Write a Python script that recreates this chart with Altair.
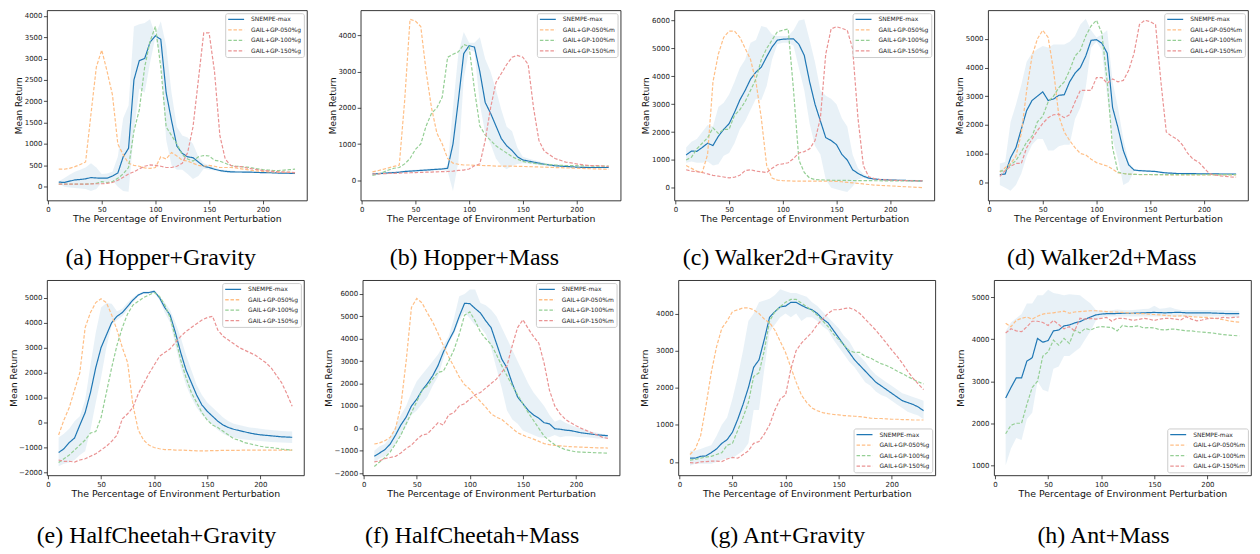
import altair as alt
import pandas as pd

X = [10, 15, 20, 25, 30, 35, 40, 45, 50, 55, 60, 65, 70, 75, 80, 85, 90, 95, 100, 105,
     110, 115, 120, 125, 130, 135, 140, 145, 150, 155, 160, 165, 170, 175, 180, 185, 190,
     195, 200, 205, 210, 215, 220, 225, 230]

# ---------------- (a) Hopper+Gravity ----------------
A_SNE = [110, 100, 130, 160, 170, 185, 215, 205, 200, 200, 250, 320, 700, 900, 2500, 2950, 3000, 3380, 3530, 3450,
         2200, 1550, 950, 780, 700, 680, 580, 480, 450, 410, 380, 360, 350, 345, 345, 340, 340, 335, 330, 330,
         325, 320, 318, 315, 310]
A_HI = [130, 200, 280, 350, 400, 450, 550, 450, 300, 310, 350, 700, 1600, 1900, 3750, 3800, 3830, 3920, 3550, 3870,
        3300, 2200, 1400, 1200, 1150, 1000, 700, 550, 500, 450, 410, 390, 380, 370, 365, 360, 355, 350, 345, 345,
        340, 335, 332, 330, 325]
A_LO = [80, 0, -20, -30, -40, -50, -100, -50, 100, 100, 150, 0, -100, -120, 1300, 2300, 2200, 2900, 3500, 3000,
        1100, 500, 400, 400, 300, 180, 250, 420, 400, 380, 350, 330, 320, 320, 325, 320, 325, 320, 315, 315,
        310, 305, 304, 300, 295]
A_G050 = [410, 410, 430, 470, 520, 580, 1700, 2800, 3200, 2700, 2150, 1000, 750, 550, 500, 480, 440, 430, 450, 700,
          650, 800, 720, 620, 600, 550, 500, 480, 500, 480, 450, 450, 450, 440, 420, 400, 380, 370, 360, 350,
          345, 340, 340, 335, 330]
A_G100 = [60, 60, 60, 60, 60, 60, 70, 80, 120, 100, 120, 200, 300, 450, 1300, 1800, 2800, 3400, 3750, 2800,
          1400, 1200, 1000, 750, 650, 600, 700, 730, 720, 620, 600, 550, 500, 480, 470, 460, 440, 420, 400, 390,
          380, 380, 390, 400, 410]
A_G150 = [60, 60, 60, 60, 60, 60, 65, 70, 70, 80, 100, 150, 220, 300, 350, 420, 480, 510, 500, 480,
          450, 450, 480, 550, 800, 1400, 2500, 3600, 3600, 2700, 1200, 650, 500, 470, 470, 440, 420, 400, 380, 370,
          360, 350, 340, 340, 330]

# ---------------- (b) Hopper+Mass ----------------
B_SNE = [170, 180, 190, 200, 210, 220, 240, 250, 260, 270, 280, 290, 300, 310, 330, 1000, 2200, 3500, 3720, 3680,
         3000, 2150, 1850, 1500, 1150, 950, 820, 650, 560, 530, 500, 470, 440, 420, 400, 390, 380, 370, 360, 355,
         350, 350, 350, 350, 350]
B_HI = [200, 210, 220, 230, 240, 250, 270, 280, 290, 300, 310, 320, 330, 340, 400, 2000, 3500, 4100, 3800, 3800,
        3950, 3350, 3000, 2500, 1950, 1480, 1350, 900, 650, 600, 560, 520, 480, 455, 430, 420, 410, 395, 385, 380,
        375, 375, 372, 372, 370]
B_LO = [140, 150, 160, 170, 180, 190, 210, 220, 230, 240, 250, 260, 270, 280, 250, -300, 500, 2800, 3600, 3550,
        2100, 1300, 1000, 600, 400, 300, 400, 450, 470, 460, 440, 420, 400, 385, 370, 360, 350, 345, 335, 330,
        325, 325, 328, 328, 330]
B_G050 = [230, 260, 300, 340, 380, 420, 2200, 4450, 4400, 4250, 3000, 2000, 1300, 1000, 600, 470, 440, 420, 420, 410,
          410, 400, 400, 390, 390, 390, 390, 380, 380, 375, 370, 365, 360, 355, 350, 345, 340, 335, 330, 325,
          320, 315, 310, 305, 300]
B_G100 = [130, 170, 220, 280, 330, 350, 450, 600, 850, 1000, 1500, 1850, 2000, 2300, 3400, 3480, 3550, 3750, 3700, 2500,
          1500, 1250, 1100, 950, 850, 750, 650, 580, 520, 490, 470, 450, 440, 430, 420, 410, 405, 400, 400, 395,
          395, 390, 390, 390, 390]
B_G150 = [170, 175, 180, 185, 190, 195, 200, 205, 210, 215, 220, 225, 230, 235, 240, 250, 270, 280, 310, 400,
          450, 1100, 2000, 2700, 2950, 3200, 3400, 3450, 3400, 3200, 2000, 1100, 800, 700, 600, 550, 500, 480, 450, 430,
          410, 400, 400, 390, 380]

# ---------------- (c) Walker2d+Gravity ----------------
C_SNE = [1180, 1320, 1310, 1450, 1600, 1520, 1850, 2100, 2300, 2700, 3150, 3500, 3900, 4150, 4330, 4700, 5050, 5300, 5330, 5340,
         5340, 5150, 4750, 3800, 3000, 2400, 1800, 1700, 1550, 1200, 1000, 650, 520, 420, 350, 320, 300, 290, 280, 275,
         270, 265, 260, 255, 250]
C_HI = [1450, 1650, 1750, 2000, 2250, 2200, 2900, 3050, 3350, 3800, 4300, 4600, 5200, 5300, 5800, 5750, 5500, 5450, 5450, 5450,
        5650, 6000, 6050, 5300, 4500, 3500, 3300, 3200, 3000, 2500, 2200, 1200, 700, 500, 400, 360, 340, 325, 315, 305,
        300, 295, 290, 285, 280]
C_LO = [900, 950, 900, 900, 950, 800, 850, 1150, 1250, 1600, 2100, 2400, 2800, 3200, 3150, 3650, 4600, 5150, 5200, 5200,
        5100, 4300, 3500, 2300, 1500, 1200, 300, 0, -50, -100, -150, 50, 300, 350, 300, 280, 260, 255, 245, 245,
        240, 235, 230, 225, 220]
C_G050 = [800, 700, 600, 550, 1200, 3800, 4800, 5400, 5620, 5620, 5400, 5000, 4600, 3800, 2500, 800, 350, 280, 260, 250,
          245, 245, 245, 245, 245, 245, 245, 240, 230, 220, 200, 180, 160, 140, 120, 100, 90, 80, 70, 60,
          50, 40, 30, 20, 10]
C_G100 = [1000, 1100, 1400, 1600, 1800, 2150, 1950, 2100, 2100, 2600, 2800, 3100, 3500, 3900, 4600, 5000, 5300, 5600, 5650, 5700,
          3500, 1000, 550, 350, 300, 290, 280, 275, 270, 268, 266, 264, 262, 260, 258, 256, 255, 254, 253, 252,
          251, 250, 250, 250, 250]
C_G150 = [650, 600, 580, 550, 500, 450, 420, 390, 360, 380, 450, 620, 650, 600, 580, 550, 700, 830, 860, 900,
          1050, 1250, 1300, 1400, 1700, 2500, 4800, 5700, 5780, 5720, 5650, 5000, 2500, 800, 400, 330, 300, 290, 280, 270,
          265, 260, 255, 250, 250]

# ---------------- (d) Walker2d+Mass ----------------
D_SNE = [260, 280, 850, 1200, 1850, 2500, 2850, 3000, 3150, 2850, 2900, 3030, 3050, 3500, 3800, 4000, 4400, 4950, 4970, 4850,
         4500, 2600, 1900, 1100, 600, 420, 400, 390, 380, 370, 340, 320, 310, 300, 300, 295, 295, 290, 290, 285,
         285, 283, 282, 281, 280]
D_HI = [650, 700, 2100, 2700, 3400, 4200, 4500, 4650, 4750, 4700, 4800, 4800, 4800, 4900, 5100, 5500, 5700, 5300, 5050, 5150,
        5300, 3500, 2600, 1500, 700, 450, 430, 420, 410, 400, 370, 350, 340, 330, 330, 325, 325, 320, 320, 315,
        315, 313, 312, 311, 310]
D_LO = [-100, -200, -300, -100, 300, 900, 1300, 1500, 1500, 1100, 1100, 1250, 1300, 1300, 2200, 2600, 3300, 4700, 4900, 4600,
        3000, 1500, 800, -100, 0, 390, 370, 360, 350, 340, 310, 290, 280, 270, 270, 265, 265, 260, 260, 255,
        255, 253, 252, 251, 250]
D_G050 = [350, 500, 650, 900, 1700, 3200, 4400, 5000, 5300, 5050, 3900, 2300, 1750, 1450, 1200, 1000, 950, 800, 680, 620,
          560, 450, 320, 300, 280, 270, 260, 260, 260, 258, 256, 255, 254, 253, 252, 251, 250, 250, 250, 250,
          250, 250, 250, 250, 250]
D_G100 = [380, 400, 600, 750, 1050, 1400, 1600, 2100, 2300, 2800, 3000, 3300, 3500, 3900, 4400, 4600, 5100, 5450, 5650, 5200,
          3500, 1200, 350, 300, 280, 270, 265, 265, 264, 263, 262, 262, 261, 261, 260, 260, 260, 260, 260, 260,
          260, 260, 260, 260, 260]
D_G150 = [200, 400, 550, 650, 650, 1200, 1500, 1800, 2050, 2250, 2350, 2370, 2250, 2350, 2800, 3200, 3200, 3200, 3650, 3650,
          3450, 3600, 3500, 3550, 3900, 4500, 5500, 5650, 5600, 5500, 3500, 1750, 1600, 1500, 1300, 1000, 800, 700, 500, 300,
          250, 220, 200, 180, 170]

# ---------------- (e) HalfCheetah+Gravity ----------------
E_SNE = [-1200, -1050, -800, -620, -100, 400, 1200, 2200, 3000, 3500, 4000, 4250, 4400, 4650, 4900, 5100, 5200, 5200, 5250, 5000,
         4600, 4300, 3600, 2800, 2100, 1600, 1100, 700, 450, 250, 50, -100, -200, -270, -320, -370, -420, -460, -490, -510,
         -530, -550, -570, -580, -590]
E_HI = [-600, -450, -250, 50, 250, 900, 2300, 3600, 4600, 4780, 4750, 4450, 4550, 4800, 5000, 5150, 5250, 5250, 5300, 5050,
        4800, 4500, 4000, 3400, 2700, 2100, 1500, 1100, 800, 600, 400, 200, 50, -50, -100, -150, -200, -220, -250, -280,
        -300, -320, -340, -350, -360]
E_LO = [-1750, -1650, -1600, -1500, -1300, -1150, -300, 800, 1800, 3000, 3900, 4100, 4250, 4500, 4800, 5050, 5150, 5150, 5200, 4900,
        4400, 4000, 3100, 2200, 1500, 1000, 600, 300, 100, -100, -300, -450, -550, -600, -650, -680, -700, -720, -740, -760,
        -780, -790, -800, -810, -820]
E_G050 = [-500, 100, 600, 1300, 2000, 3800, 4400, 4800, 4950, 4800, 4300, 3700, 3000, 2400, 700, -300, -700, -900, -1000, -1050,
          -1080, -1080, -1100, -1100, -1110, -1120, -1130, -1130, -1130, -1120, -1120, -1110, -1110, -1110, -1110, -1100, -1100, -1100, -1100, -1100,
          -1100, -1100, -1100, -1100, -1100]
E_G100 = [-1600, -1450, -1300, -1100, -900, -700, -420, -360, 200, 1200, 2200, 3100, 3800, 4350, 4700, 4850, 5000, 5100, 5200, 5050,
          4700, 4200, 3400, 2500, 1800, 1200, 800, 400, 100, -100, -200, -350, -500, -650, -700, -800, -850, -900, -950, -980,
          -1000, -1030, -1060, -1080, -1100]
E_G150 = [-1500, -1550, -1550, -1580, -1500, -1450, -1350, -1250, -1100, -950, -750, -500, 150, 350, 600, 1150, 1550, 1950, 2300, 2650,
          2800, 2950, 3200, 3450, 3650, 3800, 3950, 4100, 4200, 4250, 3700, 3450, 3300, 3150, 3000, 2900, 2800, 2700, 2550, 2400,
          2200, 1900, 1600, 1150, 650]

# ---------------- (f) HalfCheetah+Mass ----------------
F_SNE = [-1250, -1100, -950, -700, -300, 150, 500, 1000, 1300, 1700, 2000, 2350, 2800, 3400, 3900, 4350, 5000, 5580, 5570, 5350,
         5150, 4800, 4500, 3800, 3100, 2700, 2000, 1400, 1100, 800, 600, 450, 250, 200, -20, -40, -80, -100, -150, -200,
         -230, -260, -290, -310, -330]
F_HI = [-1000, -800, -700, -400, 100, 600, 1000, 1600, 2100, 2400, 2700, 3000, 3300, 3700, 4100, 4900, 5900, 6000, 6200, 6200,
        5600, 5500, 5300, 5000, 4500, 4000, 3500, 3000, 2500, 2000, 1600, 1300, 1000, 600, 300, 400, 250, 150, 50, 0,
        -100, -150, -200, -250, -280]
F_LO = [-1500, -1350, -1250, -1000, -700, -300, 100, 600, 800, 1100, 1400, 1900, 2300, 3100, 3800, 4200, 4800, 5200, 4900, 4600,
        4500, 4200, 3600, 2700, 1800, 800, 400, 200, -100, -200, -300, -400, -420, -400, -300, -400, -350, -350, -380, -400,
        -400, -420, -450, -450, -450]
F_G050 = [-700, -650, -550, -400, 0, 1000, 3000, 5400, 5800, 5600, 5150, 4750, 4250, 3700, 3200, 2750, 2300, 1950, 1750, 1450,
          1200, 950, 650, 500, 400, 200, 0, -200, -300, -400, -480, -580, -680, -730, -760, -780, -800, -820, -830, -840,
          -850, -860, -870, -870, -880]
F_G100 = [-1700, -1500, -1300, -1050, -700, -300, 200, 700, 1200, 1700, 1900, 2200, 2500, 2550, 3000, 3500, 4200, 5050, 5200, 4800,
          4300, 4000, 3750, 3300, 2800, 2350, 1900, 1500, 1100, 700, 350, 0, -350, -550, -730, -850, -950, -1000, -1050, -1060,
          -1070, -1080, -1090, -1100, -1110]
F_G150 = [-1500, -1450, -1350, -1300, -1250, -1100, -900, -750, -500, -300, -250, 0, 250, 150, 600, 700, 1000, 1100, 1300, 1500,
          1600, 1800, 2000, 2200, 2500, 2800, 3700, 4500, 4850, 4450, 4100, 3800, 2900, 1700, 1000, 650, 400, 250, 120, 0,
          -100, -200, -300, -400, -450]

# ---------------- (g) Ant+Gravity ----------------
G_SNE = [100, 100, 150, 160, 250, 350, 500, 600, 800, 1150, 1550, 2000, 2550, 2750, 3300, 3900, 4050, 4180, 4200, 4300,
         4300, 4220, 4150, 4100, 4000, 3850, 3750, 3550, 3350, 3150, 2950, 2750, 2600, 2450, 2300, 2150, 2050, 1950, 1850, 1750,
         1650, 1600, 1550, 1480, 1380]
G_HI = [300, 300, 350, 400, 450, 700, 1000, 1200, 1700, 2300, 3000, 3800, 4000, 4300, 4350, 4400, 4500, 4650, 4600, 4550,
        4550, 4500, 4450, 4300, 4200, 4050, 3900, 3750, 3600, 3400, 3250, 3000, 2850, 2700, 2500, 2350, 2250, 2150, 2050, 1950,
        1850, 1800, 1750, 1700, 1650]
G_LO = [-100, -50, -50, -50, -50, 0, 50, 100, 100, 200, 300, 500, 1400, 1400, 2500, 3500, 3700, 3900, 4000, 3900,
        4000, 3800, 3900, 3900, 3800, 3650, 3550, 3300, 3100, 2900, 2700, 2550, 2350, 2150, 2050, 1900, 1800, 1750, 1650, 1550,
        1450, 1350, 1300, 1250, 1150]
G_G050 = [200, 350, 700, 1500, 2400, 3100, 3600, 3800, 4050, 4100, 4150, 4150, 4100, 4000, 3850, 3750, 3550, 3250, 2950, 2550,
          2150, 1800, 1600, 1450, 1380, 1330, 1300, 1280, 1270, 1250, 1240, 1230, 1220, 1200, 1180, 1170, 1170, 1160, 1150, 1150,
          1140, 1140, 1130, 1130, 1130]
G_G100 = [50, 70, 100, 130, 150, 200, 250, 450, 500, 850, 1200, 1600, 2300, 2400, 3000, 3800, 4050, 4180, 4300, 4380,
          4380, 4280, 4180, 4080, 3950, 3800, 3650, 3450, 3300, 3150, 3000, 2950, 2950, 2850, 2800, 2720, 2650, 2600, 2530, 2450,
          2380, 2300, 2230, 2160, 2100]
G_G150 = [-20, -30, 0, 10, 20, 20, 10, 80, 120, 100, 200, 300, 500, 550, 750, 1000, 1400, 1700, 1800, 2500,
          3000, 3200, 3350, 3500, 3700, 3850, 4000, 4100, 4100, 4130, 4150, 4100, 4000, 3850, 3700, 3550, 3380, 3200, 3020, 2850,
          2660, 2450, 2260, 2100, 1950]

# ---------------- (h) Ant+Mass ----------------
H_SNE = [2600, 2850, 3080, 3080, 3480, 3560, 4020, 3930, 3970, 4200, 4220, 4320, 4340, 4390, 4420, 4480, 4530, 4580, 4600, 4610,
         4610, 4615, 4620, 4620, 4620, 4625, 4630, 4635, 4640, 4635, 4630, 4635, 4640, 4640, 4630, 4630, 4630, 4630, 4630, 4625,
         4620, 4615, 4610, 4610, 4610]
H_HI = [4200, 4400, 4500, 4600, 4850, 4850, 5050, 5050, 5180, 5100, 5080, 5050, 5070, 5060, 5050, 4950, 4850, 4700, 4680, 4680,
        4690, 4710, 4700, 4690, 4700, 4710, 4720, 4730, 4800, 4730, 4740, 4760, 4720, 4700, 4700, 4700, 4700, 4700, 4700, 4700,
        4700, 4690, 4690, 4680, 4680]
H_LO = [1000, 1400, 1650, 1600, 2100, 2250, 3000, 2800, 2750, 3300, 3350, 3600, 3600, 3700, 3800, 4000, 4200, 4450, 4520, 4540,
        4540, 4540, 4540, 4540, 4540, 4540, 4540, 4540, 4540, 4540, 4540, 4540, 4540, 4540, 4540, 4540, 4540, 4540, 4540, 4540,
        4540, 4540, 4540, 4530, 4530]
H_G050 = [4380, 4300, 4450, 4500, 4530, 4480, 4550, 4600, 4620, 4630, 4650, 4670, 4620, 4650, 4660, 4670, 4680, 4680, 4670, 4660,
          4650, 4650, 4640, 4630, 4620, 4610, 4610, 4600, 4590, 4580, 4570, 4560, 4550, 4560, 4550, 4540, 4530, 4520, 4520, 4500,
          4490, 4470, 4440, 4420, 4410]
H_G100 = [1750, 1950, 2000, 2000, 2450, 2850, 3000, 3600, 3700, 3980, 3860, 4020, 3900, 4220, 4150, 4260, 4220, 4280, 4300, 4290,
          4280, 4200, 4330, 4300, 4300, 4320, 4270, 4280, 4270, 4230, 4220, 4240, 4240, 4220, 4200, 4200, 4180, 4170, 4160, 4150,
          4130, 4110, 4100, 4090, 4080]
H_G150 = [4150, 4250, 4200, 4180, 4300, 4430, 4430, 4400, 4330, 4450, 4350, 4250, 4300, 4200, 4500, 4480, 4500, 4480, 4500, 4520,
          4430, 4500, 4500, 4480, 4450, 4470, 4500, 4480, 4450, 4480, 4500, 4500, 4480, 4460, 4540, 4480, 4440, 4460, 4490, 4500,
          4500, 4520, 4510, 4520, 4530]

CAPTIONS = ["(a) Hopper+Gravity", "(b) Hopper+Mass", "(c) Walker2d+Gravity", "(d) Walker2d+Mass",
            "(e) HalfCheetah+Gravity", "(f) HalfCheetah+Mass", "(g) Ant+Gravity", "(h) Ant+Mass"]
SUFFIX = ["g", "m", "g", "m", "g", "m", "g", "m"]
SERIES = [
    (A_SNE, A_LO, A_HI, A_G050, A_G100, A_G150),
    (B_SNE, B_LO, B_HI, B_G050, B_G100, B_G150),
    (C_SNE, C_LO, C_HI, C_G050, C_G100, C_G150),
    (D_SNE, D_LO, D_HI, D_G050, D_G100, D_G150),
    (E_SNE, E_LO, E_HI, E_G050, E_G100, E_G150),
    (F_SNE, F_LO, F_HI, F_G050, F_G100, F_G150),
    (G_SNE, G_LO, G_HI, G_G050, G_G100, G_G150),
    (H_SNE, H_LO, H_HI, H_G050, H_G100, H_G150),
]
Y_DOMAINS = [[-320, 4130], [-560, 4700], [-450, 6370], [-640, 6000],
             [-2110, 5700], [-2095, 6620], [-360, 4900], [760, 5410]]
Y_TICKS = [[0, 500, 1000, 1500, 2000, 2500, 3000, 3500, 4000],
           [0, 1000, 2000, 3000, 4000],
           [0, 1000, 2000, 3000, 4000, 5000, 6000],
           [0, 1000, 2000, 3000, 4000, 5000],
           [-2000, -1000, 0, 1000, 2000, 3000, 4000, 5000],
           [-2000, -1000, 0, 1000, 2000, 3000, 4000, 5000, 6000],
           [0, 1000, 2000, 3000, 4000],
           [1000, 2000, 3000, 4000, 5000]]
X_TICKS = [0, 50, 100, 150, 200]

# layout (sizes / styles)
WIDTHS = [261, 261, 261, 261, 258, 258, 258, 258]
HEIGHTS = [191, 191, 191, 191, 196, 196, 196, 196]
TITLE_PAD = [1.5, 1.5, 1.5, 1.5, 7, 7, 7, 7]
CAPTION_OFFSET = [23, 23, 23, 23, 26, 26, 26, 26]
LEGEND_ORIENT = ["top-right"] * 6 + ["bottom-right"] * 2
COLORS = ["#1f77b4", "#ffbf86", "#95cf95", "#ea9393"]
DASHES = [[1, 0], [3.5, 1.8], [3.5, 1.8], [3.5, 1.8]]


def make_panel(i):
    sne, lo, hi, g050, g100, g150 = SERIES[i]
    s = SUFFIX[i]
    names = ["SNEMPE-max", f"GAIL+GP-050%{s}", f"GAIL+GP-100%{s}", f"GAIL+GP-150%{s}"]
    rows = []
    for name, ys in zip(names, [sne, g050, g100, g150]):
        for xv, yv in zip(X, ys):
            rows.append({"x": xv, "y": yv, "series": name})
    df = pd.DataFrame(rows)
    band = pd.DataFrame({"x": X, "lo": lo, "hi": hi})

    xscale = alt.Scale(domain=[-1, 241], nice=False, zero=False)
    yscale = alt.Scale(domain=Y_DOMAINS[i], nice=False, zero=False)
    xaxis = alt.Axis(values=X_TICKS, title="The Percentage of Environment Perturbation", labelOverlap=False)
    yaxis = alt.Axis(values=Y_TICKS[i], format="d", title="Mean Return", labelOverlap=False,
                     titlePadding=TITLE_PAD[i], minExtent=22, maxExtent=22)

    area = alt.Chart(band).mark_area(color="#1f77b4", opacity=0.1).encode(
        x=alt.X("x:Q", scale=xscale, axis=xaxis),
        y=alt.Y("lo:Q", scale=yscale, axis=yaxis),
        y2="hi:Q",
    )
    legend = alt.Legend(title=None, orient=LEGEND_ORIENT[i], offset=3)
    lines = alt.Chart(df).mark_line(strokeWidth=1.2).encode(
        x=alt.X("x:Q", scale=xscale, axis=xaxis),
        y=alt.Y("y:Q", scale=yscale, axis=yaxis),
        color=alt.Color("series:N", scale=alt.Scale(domain=names, range=COLORS), legend=legend, sort=names),
        strokeDash=alt.StrokeDash("series:N", scale=alt.Scale(domain=names, range=DASHES), legend=legend, sort=names),
    )
    return alt.layer(area, lines).properties(
        width=WIDTHS[i], height=HEIGHTS[i],
        title=alt.TitleParams(text=CAPTIONS[i], orient="bottom", anchor="middle", frame="bounds",
                              offset=CAPTION_OFFSET[i], font="Liberation Serif", fontSize=24,
                              fontWeight="normal", color="black"),
    )


panels = [make_panel(i) for i in range(8)]


def row(ps, sp):
    return alt.hconcat(*ps, spacing=sp).resolve_scale(
        color="independent", strokeDash="independent", x="independent", y="independent"
    ).resolve_legend(color="independent", strokeDash="independent")


chart = alt.vconcat(
    row(panels[:4], 20), row(panels[4:], 19), spacing=8, padding=0.1,
).resolve_scale(
    color="independent", strokeDash="independent", x="independent", y="independent"
).resolve_legend(color="independent", strokeDash="independent").configure_view(
    stroke="#222", strokeWidth=0.9
).configure_axis(
    domain=False, grid=False, labelFont="DejaVu Sans", labelFontSize=7, labelColor="#222",
    tickColor="#222", tickSize=3.5, tickWidth=0.8, labelPadding=1.5, labelOverlap=False,
    titleFont="DejaVu Sans", titleFontWeight="normal", titleColor="#111",
).configure_axisX(titlePadding=2.5, titleFontSize=9.4).configure_axisY(titleFontSize=9).configure_legend(
    labelFont="DejaVu Sans", labelFontSize=6, labelColor="#222", symbolType="stroke",
    symbolStrokeWidth=1.3, symbolSize=256, clipHeight=8.5, rowPadding=1.5, padding=2,
    labelOffset=6, fillColor="rgba(255,255,255,0.85)", strokeColor="#cccccc", cornerRadius=2,
)

chart.save("out.html", embed_options={"renderer": "svg", "actions": False})
